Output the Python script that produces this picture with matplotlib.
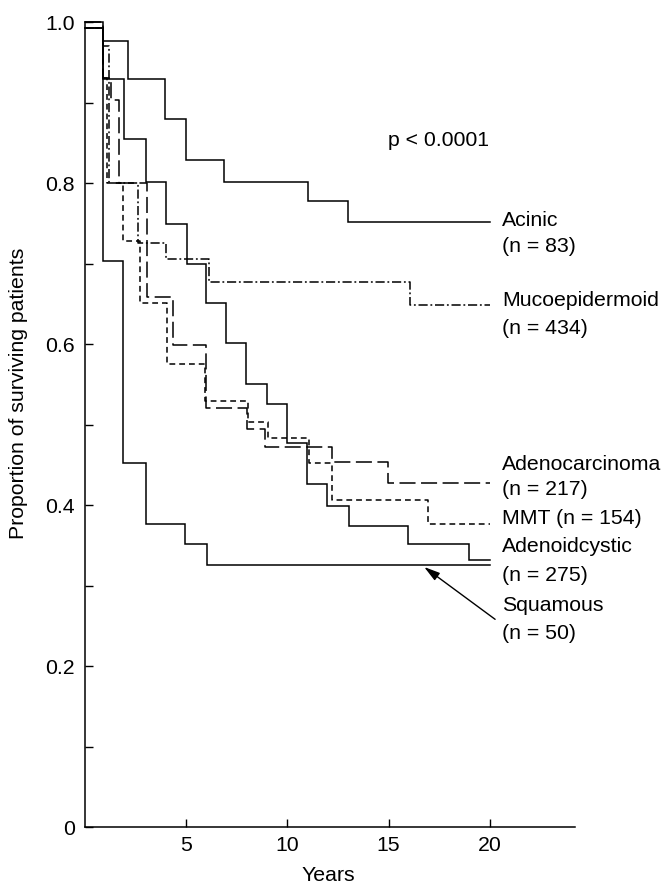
import matplotlib
matplotlib.use("Agg")
import matplotlib.pyplot as plt
import numpy as np

plt.rcParams['font.family'] = ['Liberation Sans', 'DejaVu Sans']

END_YEAR = 20

# Kaplan-Meier steps: times of drop (years) and survival after drop
acinic_t = [0, 0.9, 2.15, 3.95, 5.0, 6.9, 11.0, 13.0]
acinic_s = [1.0, 0.977, 0.929, 0.879, 0.828, 0.801, 0.778, 0.752]

muco_t = [0, 0.9, 1.2, 2.62, 4.02, 6.16, 16.05]
muco_s = [0.993, 0.970, 0.80, 0.726, 0.705, 0.677, 0.648]

adenoca_t = [0, 0.9, 1.29, 1.72, 3.07, 4.35, 5.97, 8.0, 8.9, 12.19, 14.98]
adenoca_s = [1.0, 0.93, 0.903, 0.80, 0.658, 0.599, 0.521, 0.495, 0.472, 0.453, 0.427]

mmt_t = [0, 0.9, 1.09, 1.88, 2.72, 4.05, 5.95, 8.08, 9.07, 11.07, 12.22, 16.96]
mmt_s = [0.993, 0.93, 0.80, 0.728, 0.651, 0.575, 0.529, 0.503, 0.483, 0.452, 0.406, 0.376]

adcc_t = [0, 0.9, 1.95, 3.02, 4.02, 5.06, 6.0, 6.98, 7.97, 9.02, 9.98, 10.99, 11.98,
          13.03, 15.95, 18.95]
adcc_s = [0.993, 0.929, 0.855, 0.801, 0.749, 0.700, 0.651, 0.601, 0.550, 0.526, 0.477,
          0.426, 0.399, 0.374, 0.352, 0.332]

squam_t = [0, 0.9, 1.9, 3.04, 4.98, 6.05]
squam_s = [0.993, 0.703, 0.452, 0.376, 0.351, 0.326]

x_ticks = [5, 10, 15, 20]
y_major = [0, 0.2, 0.4, 0.6, 0.8, 1.0]
y_major_labels = ["0", "0.2", "0.4", "0.6", "0.8", "1.0"]
y_minor = [0.1, 0.3, 0.5, 0.7, 0.9]

FS = 15.3
W, H = 663, 887
fig = plt.figure(figsize=(W / 100, H / 100), dpi=100)
ax = fig.add_axes([84.5 / W, 1 - 828 / H, 490.1 / W, 805 / H])

solid = '-'
dashdot = (0, (6, 1.8, 1.2, 1.8))
longdash = (0, (10.5, 3.6))
shortdash = (0, (3.8, 2.6))

series = [
    (acinic_t, acinic_s, solid),
    (muco_t, muco_s, dashdot),
    (adenoca_t, adenoca_s, longdash),
    (mmt_t, mmt_s, shortdash),
    (adcc_t, adcc_s, solid),
    (squam_t, squam_s, solid),
]
for t, s, ls in series:
    tt = list(t) + [END_YEAR]
    ss = list(s) + [s[-1]]
    ax.step(tt, ss, where='post', color='black', lw=1.1, linestyle=ls,
            clip_on=False, solid_joinstyle='miter')

ax.set_xlim(0, 24.17)
ax.set_ylim(0, 1.0)
for sp in ['top', 'right']:
    ax.spines[sp].set_visible(False)
for sp in ['left', 'bottom']:
    ax.spines[sp].set_linewidth(1.1)

ax.set_xticks(x_ticks)
ax.set_xticklabels([str(v) for v in x_ticks])
ax.set_yticks(y_major)
ax.set_yticklabels(y_major_labels)
ax.set_yticks(y_minor, minor=True)
ax.tick_params(axis='both', which='both', direction='in', length=5.5, width=1.0,
               labelsize=FS, colors='black')
ax.tick_params(axis='y', pad=7)
ax.tick_params(axis='x', pad=6)

ax.set_xlabel("Years", fontsize=FS)
ax.set_ylabel("Proportion of surviving patients", fontsize=FS)
ax.xaxis.set_label_coords(0.497, -0.047)
ax.yaxis.set_label_coords(-0.1163, 0.54)

# Labels
LX = 20.6
labels = [
    ("Acinic", 0.755), ("(n = 83)", 0.722),
    ("Mucoepidermoid", 0.655), ("(n = 434)", 0.621),
    ("Adenocarcinoma", 0.452), ("(n = 217)", 0.420),
    ("MMT (n = 154)", 0.385),
    ("Adenoidcystic", 0.350), ("(n = 275)", 0.314),
    ("Squamous", 0.276), ("(n = 50)", 0.241),
]
for txt, y in labels:
    ax.text(LX, y, txt, fontsize=FS, va='center', ha='left', clip_on=False)

ax.text(14.95, 0.854, "p < 0.0001", fontsize=FS, va='center', ha='left')

ax.annotate('', xy=(16.75, 0.323), xytext=(20.25, 0.258),
            arrowprops=dict(arrowstyle='-|>,head_length=0.6,head_width=0.17',
                            color='black', lw=1.0, mutation_scale=16,
                            shrinkA=0, shrinkB=0))

fig.savefig("out.png", dpi=100)
